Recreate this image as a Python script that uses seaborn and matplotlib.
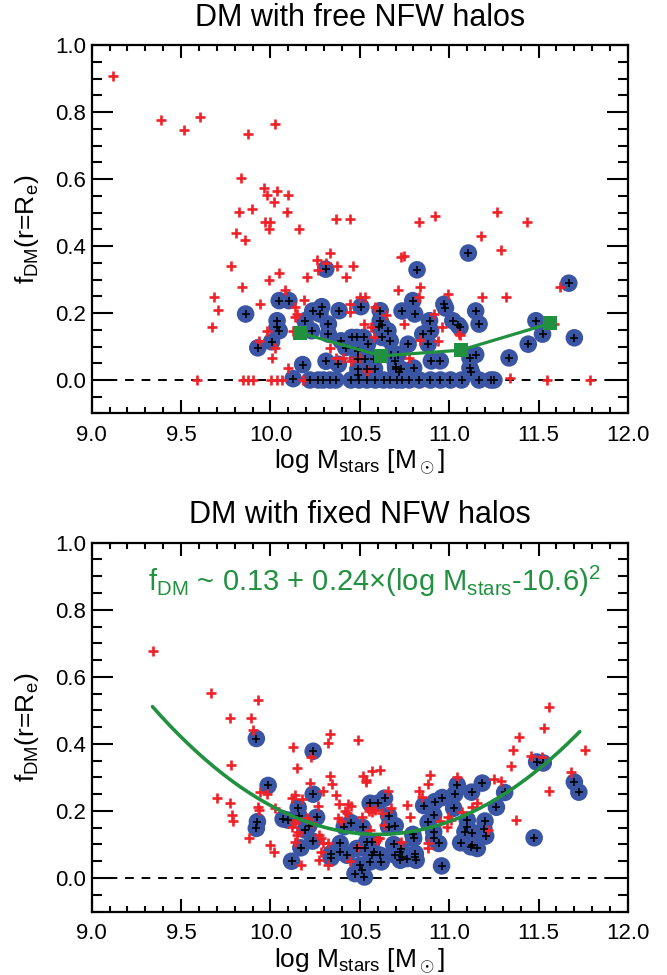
import numpy as np
import pandas as pd
import matplotlib
matplotlib.use("Agg")
import matplotlib.pyplot as plt
import seaborn as sns

# ---------------- data ----------------
# Top panel: free NFW halos
top_red_x = [9.12, 9.39, 9.515, 9.605, 9.875, 10.026, 9.837, 9.963, 9.98, 10.034, 10.096, 10.019,
             9.826, 9.897, 10.09, 9.97, 10.0, 9.99, 10.16, 10.365, 10.445, 9.809, 9.86,
             10.333, 10.262, 10.309, 10.268, 10.371, 10.464, 9.777, 10.047, 9.99, 10.202, 10.421,
             9.843, 10.084, 9.683, 9.706, 9.674, 9.942, 10.189, 10.137, 10.146, 10.14,
             10.446, 10.446, 10.50, 10.53, 10.586, 10.646, 10.713, 10.732, 10.526, 10.564, 10.577,
             9.978, 9.934, 10.024, 10.01, 10.096, 10.127, 10.365, 10.408, 10.451, 10.496, 10.539, 10.333,
             9.588, 9.847, 9.875, 9.903, 10.002, 10.034, 10.062, 10.184,
             10.835, 10.994, 10.83, 10.913, 10.957, 11.054, 10.745, 10.936, 10.839, 10.777,
             11.185, 11.317, 11.622, 11.06, 11.588, 11.34, 11.547, 11.79,
             10.83, 10.919, 11.27, 11.433, 11.176, 11.292, 10.749]
top_red_y = [0.907, 0.775, 0.745, 0.785, 0.735, 0.765, 0.604, 0.573, 0.553, 0.564, 0.553, 0.532,
             0.501, 0.512, 0.502, 0.472, 0.472, 0.452, 0.452, 0.481, 0.481, 0.44, 0.419,
             0.379, 0.359, 0.349, 0.329, 0.339, 0.339, 0.339, 0.319, 0.299, 0.308, 0.308,
             0.279, 0.269, 0.247, 0.209, 0.157, 0.227, 0.239, 0.217, 0.197, 0.187,
             0.227, 0.204, 0.249, 0.249, 0.219, 0.194, 0.269, 0.366, 0.167, 0.157, 0.127,
             0.147, 0.117, 0.097, 0.067, 0.037, 0.146, 0.067, 0.067, 0.057, 0.067, 0.027, 0.096,
             0.0, 0.0, 0.0, 0.0, 0.0, 0.0, 0.0, 0.0,
             0.279, 0.257, 0.249, 0.197, 0.157, 0.136, 0.167, 0.116, 0.119, 0.067,
             0.249, 0.249, 0.279, 0.134, 0.166, 0.006, 0.0, 0.0,
             0.471, 0.491, 0.501, 0.471, 0.429, 0.389, 0.369]

top_blue_x = [10.309, 10.049, 10.103, 9.861, 10.236, 10.287, 10.277, 10.384, 10.506, 10.614, 10.736,
              10.796, 10.807, 10.97, 10.979, 10.037, 10.037, 10.049, 10.193, 10.23, 10.324, 10.324,
              10.006, 9.929, 10.18, 10.311, 10.127, 10.395, 10.421, 10.455, 10.483, 10.521, 10.543,
              10.489, 10.487, 10.53, 10.577, 10.489, 10.489, 10.539, 10.582, 10.614, 10.624, 10.609,
              10.657, 10.67, 10.624, 10.38, 10.713, 10.676, 10.70, 10.72, 10.695, 10.702, 10.732,
              10.801, 10.9, 10.95, 10.89, 10.896, 10.852, 10.882, 10.77, 11.02, 11.05,
              11.669, 11.148, 11.167, 11.06, 11.485, 11.522, 11.70, 11.442, 11.335, 11.116, 11.148,
              11.116, 11.124, 11.107, 10.82,
              10.221, 10.268, 10.296, 10.333, 10.365, 10.451, 10.496, 10.539, 10.586, 10.633, 10.67,
              10.708, 10.736, 10.777, 10.833, 10.895, 10.951, 11.007, 11.069, 11.167, 11.232, 11.25]
top_blue_y = [0.331, 0.237, 0.237, 0.197, 0.206, 0.219, 0.197, 0.207, 0.219, 0.207, 0.206,
              0.237, 0.197, 0.226, 0.215, 0.177, 0.157, 0.147, 0.177, 0.147, 0.167, 0.137,
              0.114, 0.096, 0.046, 0.056, 0.004, 0.117, 0.097, 0.127, 0.127, 0.127, 0.107,
              0.087, 0.064, 0.064, 0.064, 0.032, 0.014, 0.034, 0.034, 0.177, 0.164, 0.157,
              0.147, 0.117, 0.127, 0.047, 0.076, 0.076, 0.039, 0.024, 0.057, 0.032, 0.032,
              0.036, 0.057, 0.057, 0.177, 0.147, 0.137, 0.107, 0.107, 0.177, 0.164,
              0.289, 0.206, 0.167, 0.157, 0.177, 0.137, 0.126, 0.107, 0.066, 0.066, 0.076,
              0.036, 0.024, 0.379, 0.329,
              0.0, 0.0, 0.0, 0.0, 0.0, 0.0, 0.0, 0.0, 0.0, 0.0, 0.0,
              0.0, 0.0, 0.0, 0.0, 0.0, 0.0, 0.0, 0.0, 0.0, 0.0, 0.0]

top_bin_x = [10.165, 10.62, 11.064, 11.565]
top_bin_y = [0.141, 0.072, 0.089, 0.169]

# Bottom panel: fixed NFW halos
bot_red_x = [9.344, 9.669, 9.931, 9.771, 9.893, 9.903, 9.781, 9.702, 9.771, 9.785, 9.79,
             9.931, 9.934, 9.944, 9.978, 10.024, 9.88, 10.0, 10.02,
             10.124, 10.146, 10.227, 10.221, 10.296, 10.333, 10.32, 10.492,
             10.333, 10.343, 10.365, 10.264, 10.118, 10.137, 10.174,
             10.386, 10.433, 10.451, 10.38, 10.395, 10.418,
             10.52, 10.534, 10.534, 10.567, 10.614, 10.511, 10.553, 10.66, 10.676,
             10.146, 10.118, 10.137, 10.271, 10.283, 10.296, 10.324,
             10.283, 10.274, 10.32, 10.17, 10.492, 10.605, 10.558, 10.446,
             10.136, 10.152, 10.136, 10.202, 10.23,
             10.89, 10.882, 11.045, 10.833, 10.848, 10.55, 10.567, 10.586, 10.624,
             10.783, 10.764, 10.994, 11.008, 10.989, 10.633, 10.608, 10.596, 10.732, 10.882, 10.882,
             11.391, 11.358, 11.345, 11.456, 11.518, 11.757, 11.681, 11.56,
             11.251, 11.288, 11.157, 11.125, 11.073, 11.376, 11.219,
             11.56, 11.532, 10.951, 10.427]
bot_red_y = [0.676, 0.553, 0.531, 0.478, 0.478, 0.44, 0.338, 0.24, 0.223, 0.188, 0.17,
             0.213, 0.203, 0.256, 0.251, 0.208, 0.12, 0.098, 0.078,
             0.39, 0.328, 0.36, 0.283, 0.26, 0.43, 0.403, 0.411,
             0.303, 0.28, 0.248, 0.216, 0.24, 0.248, 0.236,
             0.22, 0.22, 0.216, 0.178, 0.17, 0.2,
             0.303, 0.293, 0.286, 0.32, 0.323, 0.183, 0.208, 0.258, 0.208,
             0.128, 0.153, 0.163, 0.128, 0.12, 0.103, 0.103,
             0.078, 0.053, 0.038, 0.038, 0.093, 0.118, 0.143, 0.05,
             0.173, 0.138, 0.108, 0.178, 0.163,
             0.306, 0.28, 0.3, 0.258, 0.243, 0.2, 0.197, 0.203, 0.193,
             0.183, 0.218, 0.183, 0.173, 0.153, 0.158, 0.118, 0.113, 0.108, 0.103, 0.088,
             0.42, 0.383, 0.333, 0.363, 0.36, 0.383, 0.316, 0.258,
             0.296, 0.29, 0.223, 0.213, 0.198, 0.173, 0.143,
             0.51, 0.446, 0.17, 0.193]

bot_blue_x = [9.921, 9.987, 10.239, 10.239, 9.927, 9.921, 10.071, 10.096, 10.155, 10.159, 10.258,
              10.215, 10.193, 10.236, 10.17, 10.118, 10.339, 10.339, 10.39, 10.39,
              10.558, 10.601, 10.638, 10.661, 10.661, 10.698, 10.413, 10.451, 10.515, 10.427,
              10.483, 10.539, 10.567, 10.53, 10.577, 10.502, 10.473, 10.526, 10.511, 10.558,
              10.567, 10.614, 10.62, 10.689, 10.698, 10.726, 10.726,
              11.045, 11.031, 10.961, 10.92, 10.857, 11.025, 10.913, 10.882, 11.101, 11.101,
              11.088, 10.913, 10.913, 10.941, 11.064, 10.796, 10.801, 10.81, 10.81, 10.815,
              10.957, 11.12, 10.732, 10.736, 10.764,
              11.489, 11.526, 11.70, 11.725, 11.185, 11.125, 11.31, 11.264, 11.2, 11.194, 11.204,
              11.475, 11.129, 11.157, 11.125]
bot_blue_y = [0.416, 0.276, 0.378, 0.25, 0.168, 0.148, 0.176, 0.173, 0.21, 0.186, 0.181,
              0.156, 0.143, 0.11, 0.09, 0.05, 0.06, 0.073, 0.103, 0.078,
              0.223, 0.223, 0.238, 0.186, 0.153, 0.156, 0.153, 0.165, 0.151, 0.068,
              0.088, 0.108, 0.108, 0.088, 0.078, 0.038, 0.013, 0.003, 0.023, 0.048,
              0.068, 0.068, 0.048, 0.1, 0.068, 0.078, 0.053,
              0.278, 0.25, 0.24, 0.228, 0.216, 0.208, 0.188, 0.166, 0.173, 0.153,
              0.138, 0.138, 0.118, 0.103, 0.105, 0.13, 0.118, 0.073, 0.063, 0.053,
              0.036, 0.093, 0.086, 0.063, 0.058,
              0.346, 0.343, 0.286, 0.256, 0.283, 0.256, 0.255, 0.211, 0.17, 0.146, 0.125,
              0.12, 0.133, 0.088, 0.098]

# fit curve: f_DM ~ 0.13 + 0.24 (log M - 10.6)^2
fit_a, fit_b, fit_x0 = 0.13, 0.24, 10.6
fit_xmin, fit_xmax = 9.34, 11.73

titles = ["DM with free NFW halos", "DM with fixed NFW halos"]
xticks = [9.0, 9.5, 10.0, 10.5, 11.0, 11.5, 12.0]
yticks = [0.0, 0.2, 0.4, 0.6, 0.8, 1.0]

# ---------------- style ----------------
sns.set_style("ticks")
plt.rcParams['font.family'] = ['Liberation Sans', 'DejaVu Sans']
plt.rcParams['mathtext.fontset'] = 'custom'
plt.rcParams['mathtext.rm'] = 'Liberation Sans'
plt.rcParams['mathtext.it'] = 'Liberation Sans:italic'
plt.rcParams['mathtext.bf'] = 'Liberation Sans:bold'
plt.rcParams['text.color'] = 'black'
plt.rcParams['axes.labelcolor'] = 'black'
plt.rcParams['xtick.color'] = 'black'
plt.rcParams['ytick.color'] = 'black'

RED = "#EE2228"
BLUE = "#3A55A4"
GREEN = "#21913F"

fig = plt.figure(figsize=(6.67, 9.75), dpi=100)
ax_top = fig.add_axes([0.1375, 0.5759, 0.804, 0.3779])
ax_bot = fig.add_axes([0.1375, 0.0651, 0.804, 0.3783])


def draw_panel(ax, rx, ry, bx, by, title):
    ax.plot([9.0, 12.0], [0.0, 0.0], ls=(0, (4.5, 4.0)), color="black", lw=1.4, zorder=1)
    sns.scatterplot(x=bx, y=by, ax=ax, marker="o", s=160, color=BLUE, edgecolor="none",
                    linewidth=0, zorder=2, legend=False)
    sns.scatterplot(x=rx, y=ry, ax=ax, marker="+", s=62, color=RED, linewidth=1.9,
                    zorder=3, legend=False)
    sns.scatterplot(x=bx, y=by, ax=ax, marker="+", s=26, color="black", linewidth=1.2,
                    zorder=4, legend=False)
    ax.set_xlim(9.0, 12.0)
    ax.set_ylim(-0.1, 1.0)
    ax.set_xticks(xticks)
    ax.set_xticklabels([f"{t:.1f}" for t in xticks])
    ax.set_yticks(yticks)
    ax.set_yticklabels([f"{t:.1f}" for t in yticks])
    ax.set_xticks(np.arange(9.0, 12.01, 0.1), minor=True)
    ax.set_yticks(np.arange(-0.1, 1.001, 0.05), minor=True)
    ax.tick_params(axis="both", which="both", direction="in", top=True, right=True,
                   labelsize=16, width=1.5, colors="black")
    ax.tick_params(axis="x", which="major", length=9.5, pad=8)
    ax.tick_params(axis="x", which="minor", length=4.5)
    ax.tick_params(axis="y", which="major", length=15, pad=4)
    ax.tick_params(axis="y", which="minor", length=7.5)
    for sp in ax.spines.values():
        sp.set_linewidth(1.6)
        sp.set_color("black")
        sp.set_visible(True)
    ax.set_title(title, fontsize=22, pad=14)
    ax.set_xlabel(r"log M$_{\rm stars}$ [M$_\odot$]", fontsize=19)
    ax.set_ylabel(r"f$_{\rm DM}$(r=R$_{\rm e}$)", fontsize=19)
    ax.xaxis.set_label_coords(0.5, -0.094)
    ax.yaxis.set_label_coords(-0.095, 0.5)


draw_panel(ax_top, top_red_x, top_red_y, top_blue_x, top_blue_y, titles[0])
sns.lineplot(x=top_bin_x, y=top_bin_y, ax=ax_top, color=GREEN, lw=2.3, marker="s",
             markersize=10, markeredgewidth=0, zorder=5, legend=False, sort=False)

draw_panel(ax_bot, bot_red_x, bot_red_y, bot_blue_x, bot_blue_y, titles[1])
fx = np.linspace(fit_xmin, fit_xmax, 200)
fy = fit_a + fit_b * (fx - fit_x0) ** 2
sns.lineplot(x=fx, y=fy, ax=ax_bot, color=GREEN, lw=2.6, zorder=5, legend=False)
ax_bot.text(9.315, 0.884,
            r"f$_{\rm DM}$ ~ 0.13 + 0.24×(log M$_{\rm stars}$-10.6)$^2$",
            color=GREEN, fontsize=21, ha="left", va="center")

fig.savefig("out.png", dpi=100)
